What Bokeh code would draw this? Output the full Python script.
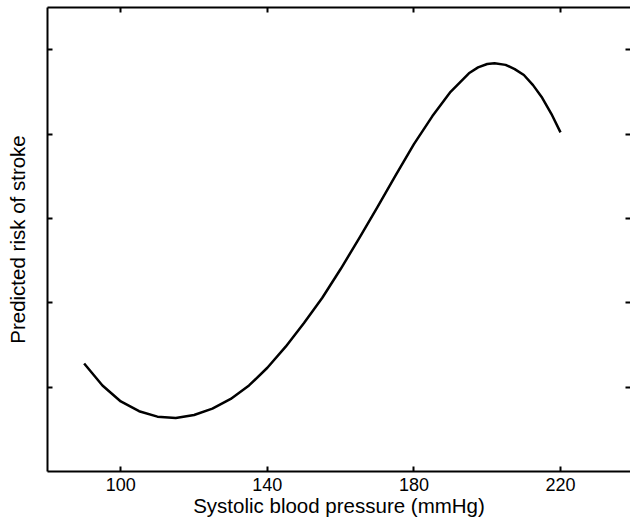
from bokeh.plotting import figure
from bokeh.models import LinearAxis, FixedTicker
from bokeh.embed import file_html
from bokeh.resources import INLINE

# Data
sbp = [90, 95, 100, 105, 110, 115, 120, 125, 130, 135, 140, 145, 150, 155,
       160, 165, 170, 175, 180, 185, 190, 195, 197.5, 200, 202, 205, 207.5,
       210, 212.5, 215, 217.5, 220]
risk = [1.28, 1.02, 0.83, 0.715, 0.65, 0.635, 0.67, 0.745, 0.86, 1.02, 1.23,
        1.48, 1.76, 2.06, 2.40, 2.76, 3.13, 3.51, 3.88, 4.21, 4.50, 4.72,
        4.79, 4.83, 4.84, 4.82, 4.77, 4.70, 4.58, 4.43, 4.24, 4.02]
x_ticks = [100, 140, 180, 220]
y_ticks = [1, 2, 3, 4, 5]

FONT = "Liberation Sans"

p = figure(width=630, height=519, x_range=(80, 239.1), y_range=(0, 5.5),
           output_backend="svg", toolbar_location=None,
           min_border_left=47, min_border_right=0, min_border_top=7,
           min_border_bottom=48, x_axis_location=None, y_axis_location=None)
p.outline_line_color = None
p.xgrid.visible = False
p.ygrid.visible = False

def style(ax, labels=False, line=True):
    ax.major_tick_in = 5
    ax.major_tick_out = 0
    ax.minor_tick_line_color = None
    ax.major_tick_line_width = 2
    ax.major_tick_line_color = "black"
    ax.axis_line_width = 2
    ax.axis_line_color = "black" if line else None
    if not labels:
        ax.major_label_text_font_size = "0px"
        ax.major_label_text_color = None
        ax.major_label_standoff = 0

xb = LinearAxis(ticker=FixedTicker(ticks=x_ticks), axis_label="Systolic blood pressure (mmHg)")
style(xb, labels=True)
xb.major_label_text_font = FONT
xb.major_label_text_font_size = "18px"
xb.major_label_text_color = "black"
xb.major_label_standoff = 6
xb.axis_label_text_font = FONT
xb.axis_label_text_font_size = "20.5px"
xb.axis_label_text_font_style = "normal"
xb.axis_label_text_color = "black"
xb.axis_label_standoff = 0
p.add_layout(xb, "below")

yl = LinearAxis(ticker=FixedTicker(ticks=y_ticks), axis_label="Predicted risk of stroke")
style(yl)
yl.axis_label_text_font = FONT
yl.axis_label_text_font_size = "20.5px"
yl.axis_label_text_font_style = "normal"
yl.axis_label_text_color = "black"
yl.axis_label_standoff = 19
p.add_layout(yl, "left")

xt = LinearAxis(ticker=FixedTicker(ticks=x_ticks))
style(xt)
p.add_layout(xt, "above")

yr = LinearAxis(ticker=FixedTicker(ticks=y_ticks))
style(yr, line=False)
p.add_layout(yr, "right")

p.line(sbp, risk, line_color="black", line_width=2.5, line_join="round")

open("out.html", "w").write(file_html(p, INLINE))
